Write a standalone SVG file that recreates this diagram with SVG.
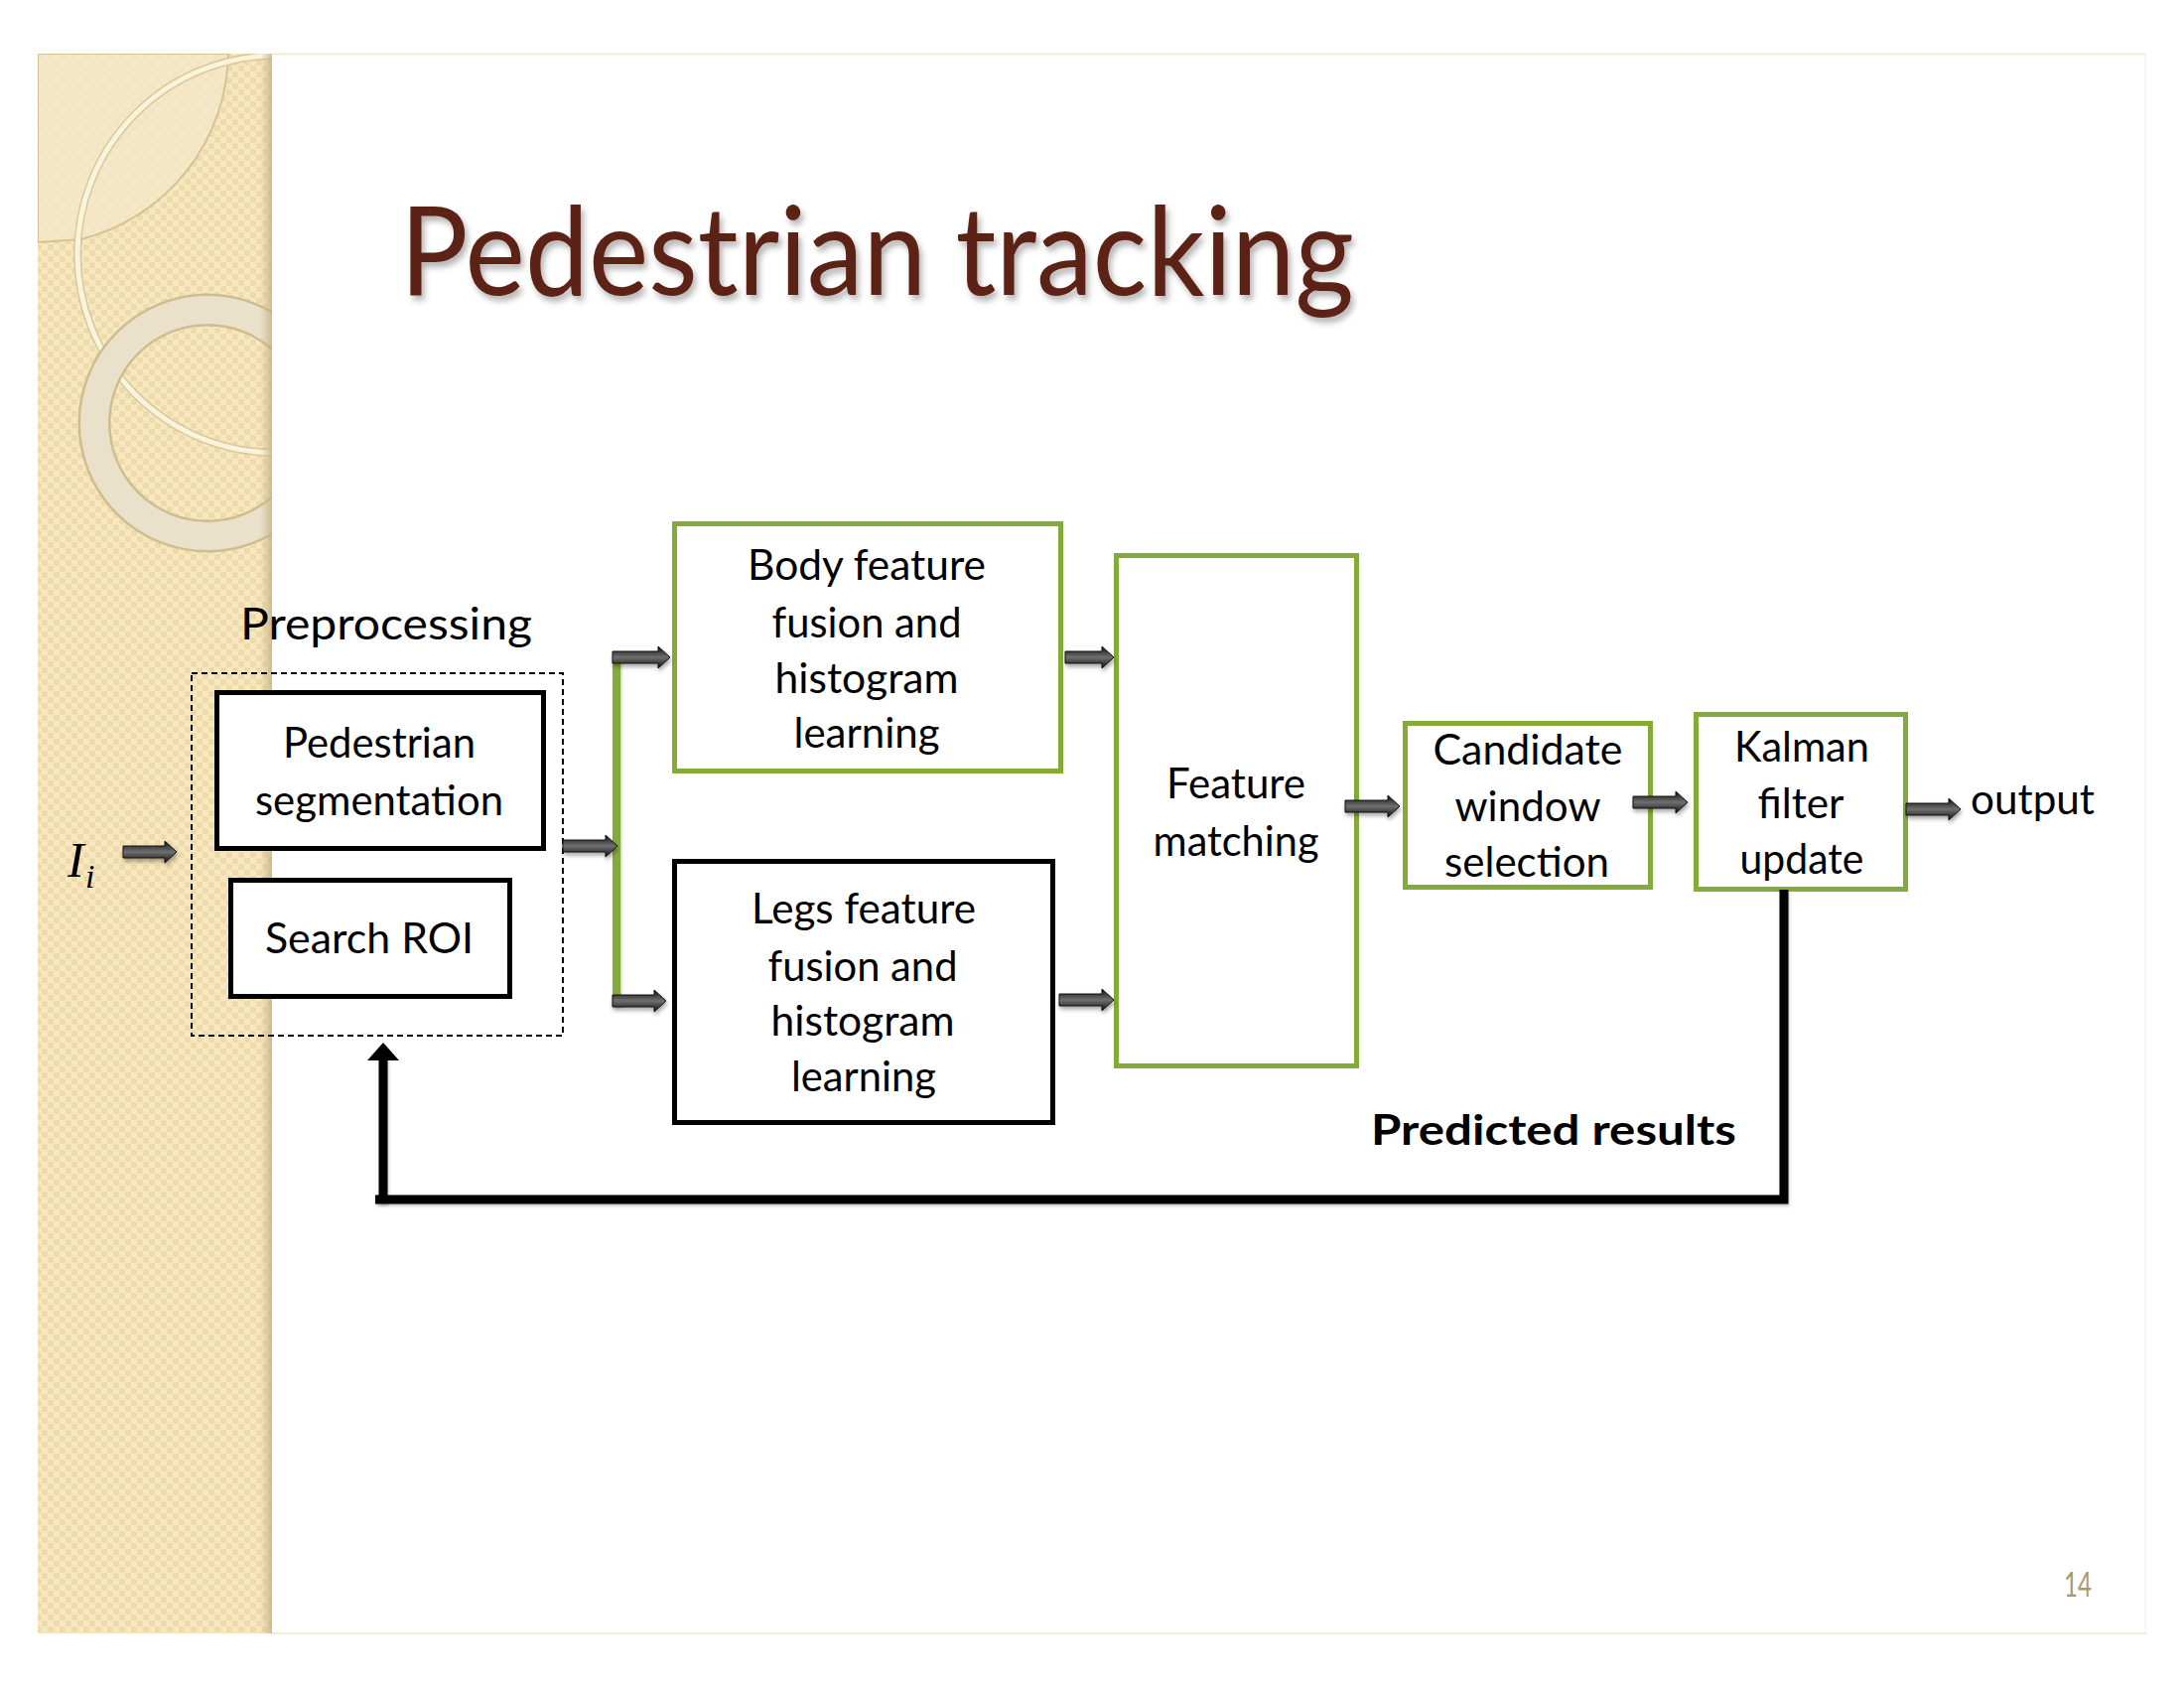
<svg xmlns="http://www.w3.org/2000/svg" width="2200" height="1700" viewBox="0 0 2200 1700">
  <style>
    .lbl { font-family: Lato, "Open Sans", "Liberation Sans", sans-serif; font-size: 42px; fill: #000; text-anchor: middle; }
    .box-black { fill: #fff; stroke: #000; stroke-width: 5; }
    .box-green { fill: #fff; stroke: #84ab38; stroke-width: 5; }
    .barrow { fill: url(#arrowGrad); stroke: #111; stroke-width: 1; filter: url(#arrowShadow); }
    .fb { fill: none; stroke: #000; stroke-width: 9; filter: url(#lineShadow); }
  </style>
  <defs>
    <!-- beige strip texture -->
    <pattern id="weave" width="12" height="12" patternUnits="userSpaceOnUse">
      <rect width="12" height="12" fill="#f3e0b0"/>
      <rect x="0" y="0" width="6" height="6" fill="#f6e7c0"/>
      <rect x="6" y="6" width="6" height="6" fill="#f6e7c0"/>
      <rect x="7.5" y="1.5" width="3" height="3" fill="none" stroke="#e8d29e" stroke-width="0.8"/>
      <rect x="1.5" y="7.5" width="3" height="3" fill="none" stroke="#e8d29e" stroke-width="0.8"/>
    </pattern>
    <linearGradient id="stripEdge" x1="0" y1="0" x2="1" y2="0">
      <stop offset="0" stop-color="#c9b58a" stop-opacity="0"/>
      <stop offset="1" stop-color="#c2ad7f" stop-opacity="0.75"/>
    </linearGradient>
    <linearGradient id="arrowGrad" x1="0" y1="0" x2="0" y2="1">
      <stop offset="0" stop-color="#0e0e0e"/>
      <stop offset="0.5" stop-color="#707070"/>
      <stop offset="1" stop-color="#0e0e0e"/>
    </linearGradient>
    <clipPath id="stripClip">
      <rect x="38" y="54" width="236" height="1591"/>
    </clipPath>
    <filter id="arrowShadow" x="-20%" y="-60%" width="140%" height="260%">
      <feDropShadow dx="1" dy="3" stdDeviation="2" flood-color="#000" flood-opacity="0.35"/>
    </filter>
    <filter id="lineShadow" filterUnits="userSpaceOnUse" x="0" y="0" width="2200" height="1700">
      <feDropShadow dx="1" dy="2" stdDeviation="1.5" flood-color="#000" flood-opacity="0.25"/>
    </filter>
    <filter id="titleShadow" x="-5%" y="-20%" width="110%" height="150%">
      <feDropShadow dx="3" dy="5" stdDeviation="3" flood-color="#000" flood-opacity="0.3"/>
    </filter>
  </defs>

  <!-- page -->
  <rect x="0" y="0" width="2200" height="1700" fill="#ffffff"/>
  <line x1="274" y1="54.5" x2="2162" y2="54.5" stroke="#f1e6c9" stroke-width="1.5"/>
  <line x1="274" y1="1645" x2="2162" y2="1645" stroke="#f1e6c9" stroke-width="1.5"/>
  <line x1="2161" y1="54" x2="2161" y2="1645" stroke="#f6f0e0" stroke-width="1"/>

  <!-- decorative side strip -->
  <g id="side-strip">
    <rect x="38" y="54" width="236" height="1591" fill="url(#weave)"/>
    <g clip-path="url(#stripClip)">
      <path d="M38,54 H230 A196,196 0 0 1 82,241 L38,244 Z" fill="#f4e8cc" fill-opacity="0.75" stroke="#d6c393" stroke-width="2"/>
      <circle cx="278" cy="256" r="200" fill="none" stroke="#d9c89c" stroke-width="8"/>
      <circle cx="278" cy="256" r="200" fill="none" stroke="#fbf4dd" stroke-width="5"/>
      <circle cx="209" cy="426" r="114" fill="none" stroke="#cfbd8f" stroke-width="33"/>
      <circle cx="209" cy="426" r="114" fill="none" stroke="#e9e1ca" stroke-width="28"/>
      <rect x="262" y="54" width="12" height="1591" fill="url(#stripEdge)"/>
    </g>
  </g>

  <!-- title -->
  <g id="title">
    <text x="403" y="297" font-family="Lato, 'Open Sans', 'Liberation Sans', sans-serif" font-size="124" fill="#5c2116" textLength="961" lengthAdjust="spacingAndGlyphs" filter="url(#titleShadow)">Pedestrian tracking</text>
  </g>

  <!-- input symbol -->
  <g id="input">
    <text x="68" y="883" font-family="'Liberation Serif', serif" font-style="italic" font-size="50" fill="#000">I</text>
    <text x="86" y="894" font-family="'Liberation Serif', serif" font-style="italic" font-size="34" fill="#000">i</text>
  </g>

  <!-- preprocessing group -->
  <g id="preprocessing">
    <text x="242" y="644" class="lbl" style="text-anchor:start;font-size:44px" textLength="294" lengthAdjust="spacingAndGlyphs">Preprocessing</text>
    <rect x="193" y="678" width="374" height="365" fill="none" stroke="#000" stroke-width="2" stroke-dasharray="6 4"/>
  </g>
  <g id="node-segmentation">
    <rect class="box-black" x="218.5" y="697.5" width="329" height="157"/>
    <text class="lbl" x="382" y="763" textLength="194" lengthAdjust="spacingAndGlyphs">Pedestrian</text>
    <text class="lbl" x="382" y="821" textLength="250" lengthAdjust="spacingAndGlyphs">segmentation</text>
  </g>
  <g id="node-search-roi">
    <rect class="box-black" x="232.5" y="886.5" width="281" height="117"/>
    <text class="lbl" x="372" y="960" textLength="210" lengthAdjust="spacingAndGlyphs">Search ROI</text>
  </g>

  <!-- feature learning -->
  <g id="node-body">
    <rect class="box-green" x="679.5" y="527.5" width="389" height="249"/>
    <text class="lbl" x="873" y="584" textLength="240" lengthAdjust="spacingAndGlyphs">Body feature</text>
    <text class="lbl" x="873" y="642" textLength="191" lengthAdjust="spacingAndGlyphs">fusion and</text>
    <text class="lbl" x="873" y="698" textLength="185" lengthAdjust="spacingAndGlyphs">histogram</text>
    <text class="lbl" x="873" y="753" textLength="147" lengthAdjust="spacingAndGlyphs">learning</text>
  </g>
  <g id="node-legs">
    <rect class="box-black" x="679.5" y="867.5" width="381" height="263"/>
    <text class="lbl" x="870" y="930" textLength="226" lengthAdjust="spacingAndGlyphs">Legs feature</text>
    <text class="lbl" x="869" y="988" textLength="191" lengthAdjust="spacingAndGlyphs">fusion and</text>
    <text class="lbl" x="869" y="1043" textLength="185" lengthAdjust="spacingAndGlyphs">histogram</text>
    <text class="lbl" x="870" y="1099" textLength="146" lengthAdjust="spacingAndGlyphs">learning</text>
  </g>

  <!-- matching and tracking -->
  <g id="node-matching">
    <rect class="box-green" x="1124.5" y="559.5" width="242" height="514"/>
    <text class="lbl" x="1245" y="804" textLength="140" lengthAdjust="spacingAndGlyphs">Feature</text>
    <text class="lbl" x="1245" y="862" textLength="167" lengthAdjust="spacingAndGlyphs">matching</text>
  </g>
  <g id="node-candidate">
    <rect class="box-green" x="1415.5" y="728.5" width="247" height="165"/>
    <text class="lbl" x="1539" y="770" textLength="191" lengthAdjust="spacingAndGlyphs">Candidate</text>
    <text class="lbl" x="1539" y="827" textLength="147" lengthAdjust="spacingAndGlyphs">window</text>
    <text class="lbl" x="1538" y="883" textLength="166" lengthAdjust="spacingAndGlyphs">selection</text>
  </g>
  <g id="node-kalman">
    <rect class="box-green" x="1708.5" y="719.5" width="211" height="176"/>
    <text class="lbl" x="1815" y="767" textLength="136" lengthAdjust="spacingAndGlyphs">Kalman</text>
    <text class="lbl" x="1814" y="824" textLength="87" lengthAdjust="spacingAndGlyphs">filter</text>
    <text class="lbl" x="1815" y="880" textLength="125" lengthAdjust="spacingAndGlyphs">update</text>
  </g>
  <g id="output-label">
    <text class="lbl" x="1985" y="820" style="text-anchor:start" textLength="125" lengthAdjust="spacingAndGlyphs">output</text>
  </g>

  <!-- connectors -->
  <g id="connectors">
    <!-- split bar -->
    <rect x="617" y="658" width="8" height="355" fill="#84ab38" filter="url(#lineShadow)"/>
    <!-- feedback loop -->
    <path class="fb" d="M1797,896 V1208 H378"/>
    <path class="fb" d="M386,1212 V1066"/>
    <polygon points="386,1050 402,1068 370,1068" fill="#000"/>
    <text x="1381" y="1153" font-family="Lato, 'Open Sans', 'Liberation Sans', sans-serif" font-weight="bold" font-size="42" fill="#000" textLength="368" lengthAdjust="spacingAndGlyphs">Predicted results</text>
    <!-- block arrows -->
    <path class="barrow" d="M124,852 H166 V847 L178,858 L166,869 V864 H124 Z"/>
    <path class="barrow" d="M567,846 H610 V841 L622,852 L610,863 V858 H567 Z"/>
    <path class="barrow" d="M617,656 H663 V651 L675,662 L663,673 V668 H617 Z"/>
    <path class="barrow" d="M617,1002 H659 V997 L671,1008 L659,1019 V1014 H617 Z"/>
    <path class="barrow" d="M1073,656 H1110 V651 L1122,662 L1110,673 V668 H1073 Z"/>
    <path class="barrow" d="M1067,1001 H1110 V996 L1122,1007 L1110,1018 V1013 H1067 Z"/>
    <path class="barrow" d="M1355,806 H1398 V801 L1410,812 L1398,823 V818 H1355 Z"/>
    <path class="barrow" d="M1645,802 H1688 V797 L1700,808 L1688,819 V814 H1645 Z"/>
    <path class="barrow" d="M1920,809 H1963 V804 L1975,815 L1963,826 V821 H1920 Z"/>
  </g>

  <!-- page number -->
  <text x="2079" y="1608" font-family="Lato, 'Open Sans', 'Liberation Sans', sans-serif" font-size="34" fill="#a8996c" textLength="28" lengthAdjust="spacingAndGlyphs">14</text>
</svg>
